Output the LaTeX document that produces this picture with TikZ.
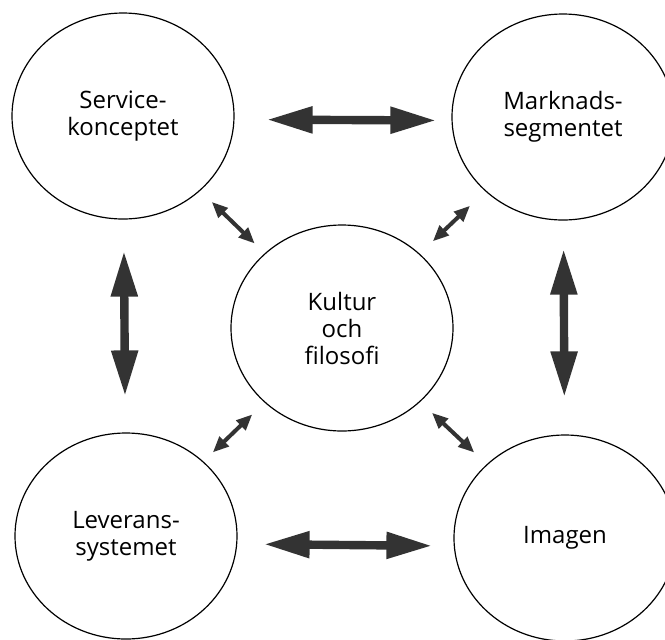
\documentclass[tikz,border=0pt]{standalone}
\usepackage{fontspec}
\setmainfont{Open Sans}
\usetikzlibrary{shapes.geometric,arrows.meta}
\definecolor{arrowgray}{gray}{0.2}

\begin{document}
\begin{tikzpicture}[x=0.5pt,y=-0.5pt,
  area/.style={draw, ellipse, line width=0.6pt, minimum width=111pt,
    minimum height=103pt, inner sep=0pt, align=center,
    font=\fontsize{12}{13.5}\selectfont},
  bigarrow/.style={draw=arrowgray, line width=4.2pt,
    {Triangle[length=23pt,width=12.5pt]}-{Triangle[length=23pt,width=12.5pt]}},
  smallarrow/.style={draw=arrowgray, line width=2pt,
    {Triangle[length=8pt,width=6.5pt]}-{Triangle[length=8pt,width=6.5pt]}}]
\clip (0,0) rectangle (665,639);
\useasboundingbox (0,0) rectangle (665,639);

% the five areas
\node[area] (service) at (123,116) {Service-\\konceptet};
\node[area] (market) at (563,117) {Marknads-\\segmentet};
\node[area] (delivery) at (126,536) {Leverans-\\systemet};
\node[area] (image) at (565,538) {Imagen};
\node[area] (culture) at (342,328) {Kultur\\och\\filosofi};

% outer ring of thick arrows
\draw[bigarrow, shorten <=16pt, shorten >=7.5pt]
  ([yshift=-1.75pt]service.east) -- ([yshift=-1.75pt]market.west);
\draw[bigarrow, shorten <=13pt, shorten >=10.5pt]
  ([yshift=-4pt]delivery.east) -- ([yshift=-4pt]image.west);
\draw[bigarrow, shorten <=15.5pt, shorten >=18pt] (service) -- (delivery);
\draw[bigarrow, shorten <=14pt, shorten >=18.5pt] (market) -- (image);

% small arrows to the centre
\draw[smallarrow, shorten <=8pt, shorten >=7pt] (service) -- (culture);
\draw[smallarrow, shorten <=9pt, shorten >=10.5pt] (culture) -- (market);
\draw[smallarrow, shorten <=8.5pt, shorten >=6.5pt] (culture) -- (delivery);
\draw[smallarrow, shorten <=8pt, shorten >=8.5pt] (culture) -- (image);

\end{tikzpicture}
\end{document}
